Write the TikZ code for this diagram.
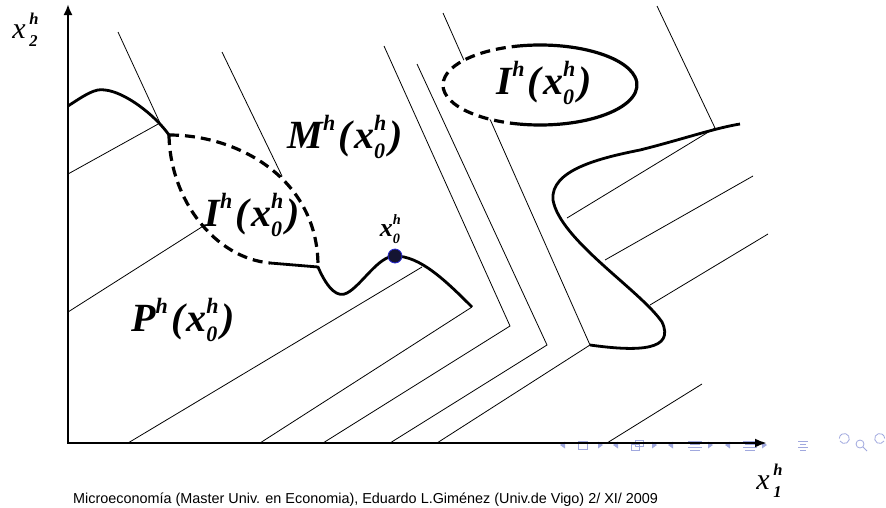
\documentclass[tikz,border=0pt]{standalone}
\usepackage{fontspec}
\setmainfont{Liberation Serif}
\newfontfamily\footfont{Liberation Sans}
\usepackage{xcolor}
\usetikzlibrary{arrows.meta}
\definecolor{navblue}{RGB}{160,168,222}
\definecolor{dotblue}{RGB}{40,40,210}
\definecolor{dotfill}{RGB}{20,20,50}
\newcommand{\upsc}[1]{\raisebox{0.46em}{\scalebox{0.55}{#1}}}
\newcommand{\dnsc}[1]{\raisebox{-0.26em}{\scalebox{0.55}{#1}}}
\newcommand{\xoh}{x\rlap{\upsc{h}}\dnsc{0}}
\newcommand{\setlab}[1]{#1\upsc{h}\hspace{0.08em}(\hspace{0.05em}\xoh\hspace{0.1em})}
\newcommand{\axlab}[1]{{\mdseries x}\hspace{0.12em}\rlap{\upsc{h}}\dnsc{#1}}

\begin{document}
\begin{tikzpicture}[x=1pt,y=-1pt,
    isoline/.style={line width=0.8pt},
    thickcurve/.style={line width=2.8pt,line join=round},
    dashcurve/.style={line width=3.2pt,dash pattern=on 10pt off 6pt},
    setlabel/.style={font=\fontsize{40}{40}\selectfont\bfseries\itshape,inner sep=0pt},
    axislabel/.style={font=\fontsize{30}{30}\selectfont\bfseries\itshape,inner sep=0pt},
    navsym/.style={navblue,line width=0.8pt}]
\useasboundingbox (0,0) rectangle (886,507);

\foreach \x in {562,615,670,727}
    \fill[navblue] (\x+3,441.5) -- (\x-2,445) -- (\x+3,448.5) -- cycle;
\foreach \x in {600,654,710,764}
    \fill[navblue] (\x-2,441.5) -- (\x+3,445) -- (\x-2,448.5) -- cycle;
\draw[navsym] (578,441) rectangle (587,449);
\draw[navsym] (631,444) rectangle (639,450);
\draw[navsym] (635,440) rectangle (643,446);
\foreach \x/\w in {688/14,743/14,798/10} {
    \draw[navsym] (\x,441) -- ++(\w,0);
    \draw[navsym] (\x+2,444) -- ++(\w-4,0);
    \draw[navsym] (\x,447) -- ++(\w,0);
    \draw[navsym] (\x+2,450) -- ++(\w-4,0);
}
\draw[navsym] (840,441) arc[start angle=150, end angle=-180, radius=5];
\draw[navsym] (860,444) circle (4) (863,447) -- (867,451);
\draw[navsym] (884,441) arc[start angle=30, end angle=360, radius=5];

\coordinate (O) at (68,443);
\coordinate (ytip) at (68,4);
\coordinate (xtip) at (767,443);
\draw[line width=2.6pt,{Latex[length=11pt,width=9pt]}-{Latex[length=12pt,width=9pt]}] (ytip) -- (O) -- (xtip);

\foreach \ax/\ay/\bx/\by/\cx/\cy in {118/32/160/123/68/174, 222/52/282/176/68/312,
    384/46/510/326/323/443, 417/64/547/345/390/443, 443/13/590/345/437/443, 657/6/715/128/567/218}
    \draw[isoline] (\ax,\ay) -- (\bx,\by) -- (\cx,\cy);
\foreach \ax/\ay/\bx/\by in {128/443/422/267, 260/443/472/307, 607/443/702/384,
    650/305/768/234, 605/260/753/176}
    \draw[isoline] (\ax,\ay) -- (\bx,\by);

\fill[white] (169,135) .. controls (240,135) and (318,180) .. (318,266) -- (270,263)
    .. controls (215,258) and (170,200) .. (169,135) -- cycle;
\draw[dashcurve] (169,135) .. controls (240,135) and (318,180) .. (318,266);
\draw[dashcurve] (169,135) .. controls (170,200) and (215,258) .. (270,263);
\draw[thickcurve] (68,106) .. controls (85,95) and (95,88) .. (105,90)
    .. controls (125,92) and (155,115) .. (169,135);
\draw[thickcurve] (270,263) -- (318,267) .. controls (328,290) and (338,298) .. (347,293)
    .. controls (362,285) and (378,256) .. (395,256)
    .. controls (420,256) and (445,280) .. (472,307);
\draw[thickcurve] (590,345) .. controls (640,352) and (675,350) .. (662,322)
    .. controls (640,290) and (560,240) .. (553,200)
    .. controls (550,170) and (600,158) .. (640,150)
    .. controls (680,140) and (715,128) .. (740,124);

\fill[white] (540,85) ellipse[x radius=97, y radius=40];
\draw[dashcurve] (540,85) ++(102:97 and 40) arc[start angle=102, end angle=258, x radius=97, y radius=40];
\draw[line width=3.2pt] (540,85) ++(258:97 and 40) arc[start angle=258, end angle=462, x radius=97, y radius=40];

\filldraw[fill=dotfill,draw=dotblue,line width=0.8pt] (395,256) circle (7);

\node[setlabel] (iell) at (544,83) {\setlab{I}};
\node[setlabel] (mlab) at (345,137) {\setlab{M}};
\node[setlabel] (ilens) at (252,215) {\setlab{I}};
\node[setlabel] (plab) at (183,320) {\setlab{P}};
\node[axislabel,font=\fontsize{26}{26}\selectfont\bfseries\itshape] (xolab) at (390,229) {\xoh};
\node[axislabel] (x2lab) at (25,30) {\axlab{2}};
\node[axislabel] (x1lab) at (769,481) {\axlab{1}};
\node[font=\footfont\fontsize{14.4}{14.4}\selectfont,inner sep=0pt,anchor=base west] (foot) at (73,503)
    {Microeconomía (Master Univ. en Economia), Eduardo L.Giménez (Univ.de Vigo) 2/ XI/ 2009};
\end{tikzpicture}
\end{document}
